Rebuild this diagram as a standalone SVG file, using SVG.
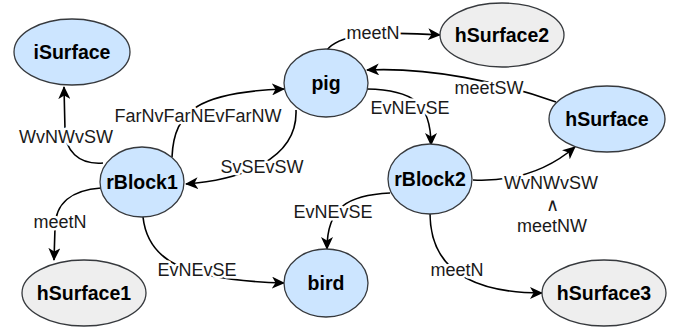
<svg xmlns="http://www.w3.org/2000/svg" width="683" height="334" viewBox="0 0 683 334">
<style>
.n ellipse{stroke:#36393d;stroke-width:1.3}
.b{fill:#cce5ff}
.g{fill:#eeeeee}
.n text{font-family:"Liberation Sans",Arial,sans-serif;font-weight:bold;font-size:19.5px;fill:#000;text-anchor:middle;dominant-baseline:central}
#edges path{fill:none;stroke:#000;stroke-width:1.6}
.lbl{font-family:"Liberation Sans",Arial,sans-serif;font-size:18px;fill:#1a1a1a;text-anchor:middle;dominant-baseline:central;stroke:#fff;stroke-width:5;paint-order:stroke;stroke-linejoin:round}
</style>
<defs>
<marker id="ar" markerWidth="13" markerHeight="12" refX="12" refY="6" orient="auto" markerUnits="userSpaceOnUse">
<path d="M0,0 L13,6 L0,12 L3.5,6 Z" fill="#000"/>
</marker>
</defs>
<g id="edges">
<path d="M103,163 C 78,165 65,150 65,130 L64,87" marker-end="url(#ar)"/>
<path d="M172,157 C 174,110 200,92 284,89" marker-end="url(#ar)"/>
<path d="M296,110 C 298,160 240,180 186,184" marker-end="url(#ar)"/>
<path d="M327,50 C 337,37 365,30 440,35" marker-end="url(#ar)"/>
<path d="M556,102 C 500,82 430,67 367,70" marker-end="url(#ar)"/>
<path d="M367,89 C 412,90 431,102 431,145" marker-end="url(#ar)"/>
<path d="M473,180 C 515,182 548,170 575,147" marker-end="url(#ar)"/>
<path d="M101,188 C 72,190 55,203 55,228 L54,260" marker-end="url(#ar)"/>
<path d="M143,217 C 148,262 185,280 284,283" marker-end="url(#ar)"/>
<path d="M390,193 C 348,195 327,207 327,249" marker-end="url(#ar)"/>
<path d="M430,213 C 430,262 462,293 542,293" marker-end="url(#ar)"/>
<text class="lbl" x="66" y="137">WvNWvSW</text>
<text class="lbl" x="198" y="116">FarNvFarNEvFarNW</text>
<text class="lbl" x="262" y="167">SvSEvSW</text>
<text class="lbl" x="373" y="33">meetN</text>
<text class="lbl" x="489" y="88">meetSW</text>
<text class="lbl" x="410" y="108">EvNEvSE</text>
<text class="lbl" x="551" y="183">WvNWvSW</text>
<text class="lbl" x="552" y="205">∧</text>
<text class="lbl" x="552" y="226">meetNW</text>
<text class="lbl" x="60" y="222">meetN</text>
<text class="lbl" x="197" y="270">EvNEvSE</text>
<text class="lbl" x="333" y="212">EvNEvSE</text>
<text class="lbl" x="457" y="270">meetN</text>
</g>
<g id="iSurface" class="n"><ellipse class="b" cx="72" cy="52" rx="58" ry="33"/><text x="72" y="52">iSurface</text></g>
<g id="pig" class="n"><ellipse class="b" cx="326" cy="83" rx="42" ry="34"/><text x="326" y="83">pig</text></g>
<g id="hSurface2" class="n"><ellipse class="g" cx="502" cy="35" rx="62" ry="32"/><text x="502" y="35">hSurface2</text></g>
<g id="hSurface" class="n"><ellipse class="b" cx="607" cy="119" rx="58" ry="33"/><text x="607" y="119">hSurface</text></g>
<g id="rBlock1" class="n"><ellipse class="b" cx="142" cy="182" rx="42" ry="35"/><text x="142" y="182">rBlock1</text></g>
<g id="rBlock2" class="n"><ellipse class="b" cx="430" cy="179" rx="42" ry="35"/><text x="430" y="179">rBlock2</text></g>
<g id="hSurface1" class="n"><ellipse class="g" cx="84" cy="293" rx="62" ry="33"/><text x="84" y="293">hSurface1</text></g>
<g id="bird" class="n"><ellipse class="b" cx="326" cy="283" rx="42" ry="34"/><text x="326" y="283">bird</text></g>
<g id="hSurface3" class="n"><ellipse class="g" cx="604" cy="293" rx="62" ry="33"/><text x="604" y="293">hSurface3</text></g>
</svg>
